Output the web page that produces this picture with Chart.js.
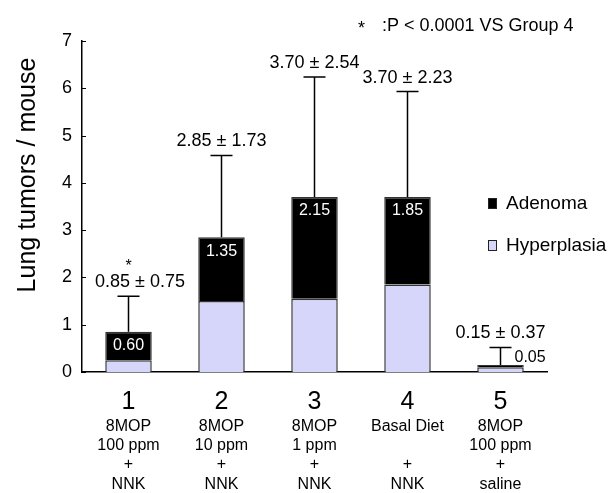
<!DOCTYPE html>
<html>
<head>
<meta charset="utf-8">
<script src="https://cdn.jsdelivr.net/npm/chart.js@4/dist/chart.umd.min.js"></script>
<style>
  html, body { margin: 0; padding: 0; background: #fff; }
  #wrap { width: 616px; height: 493px; }
</style>
</head>
<body>
<div id="wrap"><canvas id="tumorChart" width="616" height="493"></canvas></div>
<script>
const groupNums = ['1', '2', '3', '4', '5'];
const groupDesc = [
  ['8MOP', '100 ppm', '+', 'NNK'],
  ['8MOP', '10 ppm', '+', 'NNK'],
  ['8MOP', '1 ppm', '+', 'NNK'],
  ['Basal Diet', '', '+', 'NNK'],
  ['8MOP', '100 ppm', '+', 'saline']
];
const hyperplasia = [0.25, 1.50, 1.55, 1.85, 0.10];
const adenoma = [0.60, 1.35, 2.15, 1.85, 0.05];
const meanTotal = [0.85, 2.85, 3.70, 3.70, 0.15];
const sdTotal = [0.75, 1.73, 2.54, 2.23, 0.37];
const starGroups = [0];
const yTitle = 'Lung tumors / mouse';
const footnote = ':P < 0.0001 VS Group 4';

const FONT = '"Liberation Sans", Arial, sans-serif';
const LAVENDER = '#d6d6fa';

const extras = {
  id: 'extras',
  afterDatasetsDraw(chart) {
    const ctx = chart.ctx;
    const x = chart.scales.x;
    const y = chart.scales.y;
    ctx.save();

    // upper error bars + mean labels
    meanTotal.forEach((m, i) => {
      const cx = x.getPixelForValue(i);
      const top = y.getPixelForValue(m);
      const capY = y.getPixelForValue(m + sdTotal[i]);
      ctx.strokeStyle = '#000';
      ctx.lineWidth = 1.5;
      ctx.beginPath();
      ctx.moveTo(cx, top);
      ctx.lineTo(cx, capY);
      ctx.moveTo(cx - 11, capY);
      ctx.lineTo(cx + 11, capY);
      ctx.stroke();

      ctx.fillStyle = '#000';
      ctx.font = '18px ' + FONT;
      ctx.textAlign = 'center';
      ctx.textBaseline = 'middle';
      const txt = m.toFixed(2) + ' \u00b1 ' + sdTotal[i].toFixed(2);
      const w = ctx.measureText(txt).width;
      const lx = Math.max(cx, chart.chartArea.left + 13 + w / 2);
      ctx.fillText(txt, lx, capY - 14);
      if (starGroups.includes(i)) {
        ctx.font = '16px ' + FONT;
        ctx.fillText('*', cx, capY - 30);
      }

      // adenoma value
      ctx.font = '16px ' + FONT;
      const segH = y.getPixelForValue(hyperplasia[i]) - top;
      if (segH > 20) {
        ctx.fillStyle = '#fff';
        ctx.fillText(adenoma[i].toFixed(2), cx, top + 14);
      } else {
        ctx.fillStyle = '#000';
        ctx.textAlign = 'left';
        ctx.fillText(adenoma[i].toFixed(2), cx + 14, top - 7);
      }
    });

    // group numbers
    ctx.fillStyle = '#000';
    ctx.font = '25px ' + FONT;
    ctx.textAlign = 'center';
    ctx.textBaseline = 'middle';
    groupNums.forEach((n, i) => {
      ctx.fillText(n, x.getPixelForValue(i), 402);
    });

    // y title
    ctx.save();
    ctx.translate(35, 175);
    ctx.rotate(-Math.PI / 2);
    ctx.font = '25px ' + FONT;
    ctx.textBaseline = 'alphabetic';
    ctx.fillText(yTitle, 0, 0);
    ctx.restore();

    // inward y ticks
    ctx.strokeStyle = '#000';
    ctx.lineWidth = 1;
    y.ticks.forEach(t => {
      const py = Math.round(y.getPixelForValue(t.value)) + 0.5;
      ctx.beginPath();
      ctx.moveTo(x.left, py);
      ctx.lineTo(x.left + 4, py);
      ctx.stroke();
    });

    // legend (Adenoma first)
    const legendItems = [chart.data.datasets[1], chart.data.datasets[0]];
    ctx.font = '19px ' + FONT;
    ctx.textAlign = 'left';
    legendItems.forEach((ds, k) => {
      const ly = 204 + k * 42;
      ctx.fillStyle = ds.backgroundColor;
      ctx.fillRect(488, ly - 6, 9, 11);
      ctx.strokeStyle = '#222';
      ctx.strokeRect(488.5, ly - 5.5, 8, 10);
      ctx.fillStyle = '#000';
      ctx.fillText(ds.label, 506, ly);
    });

    // footnote
    ctx.font = '18px ' + FONT;
    ctx.fillText('*', 358, 29);
    ctx.fillText(footnote, 382, 26);

    ctx.restore();
  }
};

new Chart(document.getElementById('tumorChart').getContext('2d'), {
  type: 'bar',
  data: {
    labels: groupDesc,
    datasets: [{
      label: 'Hyperplasia',
      data: hyperplasia,
      backgroundColor: LAVENDER,
      borderColor: '#333',
      borderWidth: 1.5,
      barPercentage: 0.5,
      categoryPercentage: 1
    }, {
      label: 'Adenoma',
      data: adenoma,
      backgroundColor: '#000',
      borderColor: '#333',
      borderWidth: 1.5,
      barPercentage: 0.5,
      categoryPercentage: 1
    }]
  },
  options: {
    responsive: false,
    animation: false,
    layout: { padding: { top: 41, right: 69, left: 0, bottom: 0 } },
    plugins: {
      legend: { display: false },
      tooltip: { enabled: false }
    },
    scales: {
      x: {
        stacked: true,
        grid: { display: false, drawTicks: false },
        border: { display: true, color: '#000', width: 1.5 },
        ticks: {
          color: '#000',
          font: { family: FONT, size: 16, lineHeight: 1.2 },
          padding: 45,
          maxRotation: 0,
          autoSkip: false
        },
        afterFit(scale) { scale.height = 121; }
      },
      y: {
        stacked: true,
        min: 0,
        max: 7,
        grid: { display: false, drawTicks: false },
        border: { display: true, color: '#000', width: 1.5 },
        ticks: {
          stepSize: 1,
          color: '#000',
          font: { family: FONT, size: 18 },
          padding: 10
        },
        afterFit(scale) { scale.width = 82; }
      }
    }
  },
  plugins: [extras]
});
</script>
</body>
</html>
